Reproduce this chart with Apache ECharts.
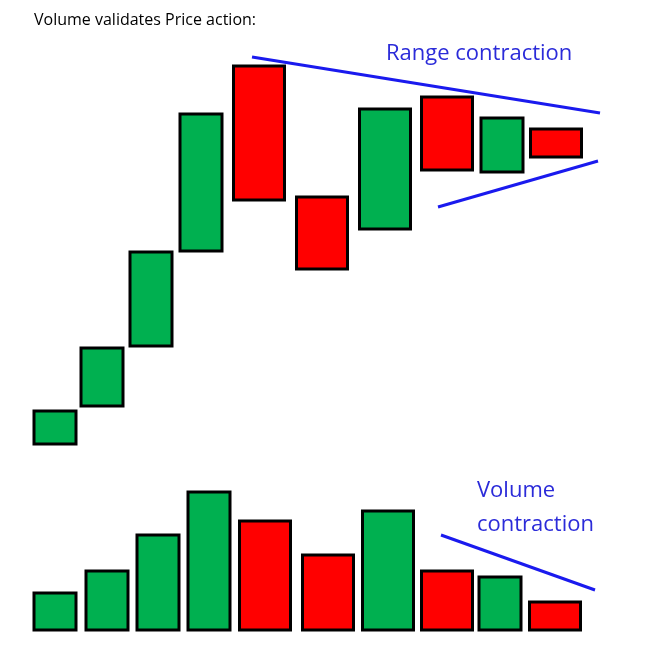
<!DOCTYPE html>
<html><head><meta charset="utf-8">
<script src="https://cdn.jsdelivr.net/npm/echarts@6/dist/echarts.min.js"></script>
<style>html,body{margin:0;padding:0;background:#fff}#c{width:649px;height:653px}</style>
</head><body><div id="c"></div>
<script>
const centers = [55,102,151,201,259,322,385,447,502,556];
const opens  = [209,247,307,402,587,456,424,556,481,524];
const closes = [242,305,401,539,453,384,544,483,535,496];
const volumes = [37,59,95,138,109,75,119,59,53,28];
const volCenters = [55,107,158,209,265,328,388,447,500,555];
const rangeTop = [[252,596],[600,540]];
const rangeBottom = [[438,446],[598,492]];
const volLine = [[441,95],[595,40]];

const GREEN='#00b050', RED='#ff0000';
const wide = i => (closes[i] < opens[i] || i===6) ? 51 : 42;

const candleData = centers.map((c,i)=>[c, opens[i], closes[i], i]);
const volData = volCenters.map((c,i)=>[c, volumes[i], i]);

const chart = echarts.init(document.getElementById('c'));
chart.setOption({
  animation:false,
  grid:[{left:0,right:0,top:0,bottom:0},{left:0,right:0,top:480,bottom:23}],
  xAxis:[{type:'value',min:0,max:649,show:false,gridIndex:0},{type:'value',min:0,max:649,show:false,gridIndex:1}],
  yAxis:[{type:'value',min:0,max:653,show:false,gridIndex:0},{type:'value',min:0,max:150,show:false,gridIndex:1}],
  graphic:[
    {type:'text',left:34,top:12,style:{text:'Volume validates Price action:',font:'16px "Open Sans"',fill:'#000'}},
    {type:'text',left:386,top:43,style:{text:'Range contraction',font:'22px "Open Sans"',fill:'#2b2bd9'}},
    {type:'text',left:477,top:480,style:{text:'Volume',font:'22px "Open Sans"',fill:'#2b2bd9'}},
    {type:'text',left:477,top:514,style:{text:'contraction',font:'22px "Open Sans"',fill:'#2b2bd9'}}
  ],
  series:[
    {type:'custom',xAxisIndex:0,yAxisIndex:0,data:candleData,
     renderItem:(p,api)=>{
       const i=api.value(3), w=wide(i);
       const a=api.coord([api.value(0),api.value(1)]), b=api.coord([api.value(0),api.value(2)]);
       const up=api.value(2)>api.value(1);
       return {type:'rect',shape:{x:a[0]-w/2,y:Math.min(a[1],b[1]),width:w,height:Math.abs(a[1]-b[1])},
         style:{fill:up?GREEN:RED,stroke:'#000',lineWidth:3}};
     }},
    {type:'custom',xAxisIndex:1,yAxisIndex:1,data:volData,
     renderItem:(p,api)=>{
       const i=api.value(2), w=(opens[i]>closes[i]||i===6)?51:42;
       const a=api.coord([api.value(0),api.value(1)]), b=api.coord([api.value(0),0]);
       return {type:'rect',shape:{x:a[0]-w/2,y:a[1],width:w,height:b[1]-a[1]},
         style:{fill:closes[i]>opens[i]?GREEN:RED,stroke:'#000',lineWidth:3}};
     }},
    {type:'line',xAxisIndex:0,yAxisIndex:0,data:rangeTop,symbol:'none',lineStyle:{color:'#1a1aee',width:3}},
    {type:'line',xAxisIndex:0,yAxisIndex:0,data:rangeBottom,symbol:'none',lineStyle:{color:'#1a1aee',width:3}},
    {type:'line',xAxisIndex:1,yAxisIndex:1,data:volLine,symbol:'none',lineStyle:{color:'#1a1aee',width:3}}
  ]
});
</script></body></html>
